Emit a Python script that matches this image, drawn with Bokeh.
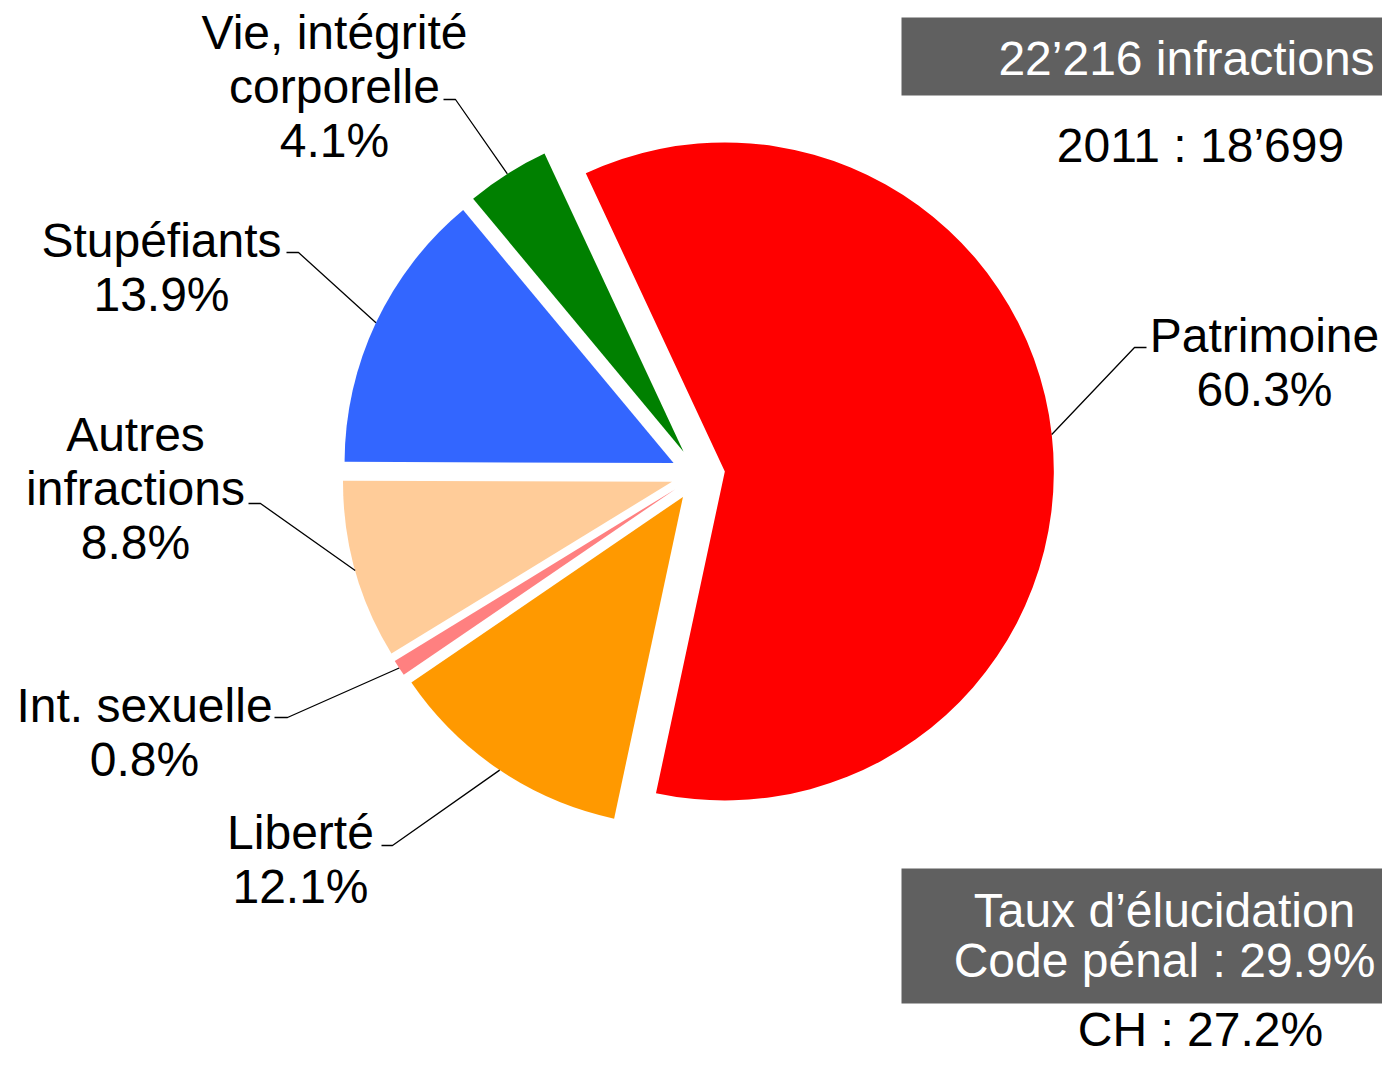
import math
from bokeh.plotting import figure
from bokeh.models import Range1d, ColumnDataSource
from bokeh.embed import file_html
from bokeh.resources import INLINE
from bokeh.core.properties import value

# ---------------- data ----------------
categories = ["Patrimoine", "Liberté", "Int. sexuelle", "Autres\ninfractions",
              "Stupéfiants", "Vie, intégrité\ncorporelle"]
shares = [60.3, 12.1, 0.8, 8.8, 13.9, 4.1]
colors = ["#FF0000", "#FF9900", "#FF8080", "#FFCC99", "#3366FF", "#008000"]
total_text = "22’216 infractions"
previous_text = "2011 : 18’699"
rate_lines = ["Taux d’élucidation", "Code pénal : 29.9%"]
ch_text = "CH : 27.2%"

# ---------------- layout (pixel positions, top-left origin) ----------------
W, H = 1382, 1058
TEXT_SHIFT = -15   # correction of rendered baseline


def X(px):
    return px


def Y(py):
    return H - py


def YT(py):
    return H - (py + TEXT_SHIFT)


center_px = (697.5, 474.0)
R = 329
EXPLODE = 27
START_DEG = -25.0          # clockwise from 12 o'clock
FONT = "Liberation Sans"
FSIZE = "48px"
LINE_STEP = 54

# label centre x, first baseline y ; leader (text-side x, elbow x, y)
label_pos = [(1264, 350), (300, 847), (144, 720), (135, 449), (161, 255), (334, 47)]
leader_pos = [(1146, 1134, 347), (381, 392, 845), (274, 287, 717),
              (248, 260, 503), (286, 298, 252), (443, 455, 99)]

p = figure(width=W, height=H, x_range=Range1d(0, W), y_range=Range1d(0, H),
           output_backend="svg", toolbar_location=None, min_border=0,
           x_axis_location=None, y_axis_location=None)
p.grid.visible = False
p.outline_line_color = None
p.background_fill_color = "white"
p.border_fill_color = "white"

cx, cy = X(center_px[0]), Y(center_px[1])

wx, wy, sa, ea, tipx, tipy = [], [], [], [], [], []
cum = 0.0
for s in shares:
    a0 = START_DEG + 360.0 * cum / 100.0
    a1 = a0 + 360.0 * s / 100.0
    m = math.radians((a0 + a1) / 2.0)
    ox = cx + EXPLODE * math.sin(m)
    oy = cy + EXPLODE * math.cos(m)
    wx.append(ox)
    wy.append(oy)
    sa.append(math.radians(90.0 - a1))
    ea.append(math.radians(90.0 - a0))
    tipx.append(ox + R * math.sin(m))
    tipy.append(oy + R * math.cos(m))
    cum += s

src = ColumnDataSource(dict(x=wx, y=wy, sa=sa, ea=ea, color=colors))
p.wedge(x="x", y="y", radius=R, start_angle="sa", end_angle="ea",
        fill_color="color", line_color=None, source=src)

# leader lines
xs, ys = [], []
for (tx, ex, ey), tpx, tpy in zip(leader_pos, tipx, tipy):
    xs.append([X(tx), X(ex), tpx])
    ys.append([Y(ey), Y(ey), tpy])
p.multi_line(xs=xs, ys=ys, line_color="black", line_width=1.3)

# category labels
lx, ly, lt = [], [], []
for cat, s, (px_, py_) in zip(categories, shares, label_pos):
    lines = cat.split("\n") + [f"{s:.1f}%"]
    for i, t in enumerate(lines):
        lx.append(X(px_))
        ly.append(YT(py_ + i * LINE_STEP))
        lt.append(t)
p.text(x=lx, y=ly, text=lt, text_font=value(FONT), text_font_size=FSIZE,
       text_align="center", text_baseline="alphabetic", text_color="black")

# info boxes
p.quad(left=[X(901), X(901)], right=[W + 20, W + 20],
       top=[Y(17), Y(868)], bottom=[Y(95), Y(1003)],
       fill_color="#606060", line_color=None)

top_cx = X(1186)
bot_cx = X(1164)
p.text(x=[top_cx, bot_cx, bot_cx], y=[YT(73), YT(925), YT(975)],
       text=[total_text] + rate_lines, text_font=value(FONT), text_font_size=FSIZE,
       text_align="center", text_baseline="alphabetic", text_color="white")
p.text(x=[X(1200), X(1200)], y=[YT(160), YT(1044)], text=[previous_text, ch_text],
       text_font=value(FONT), text_font_size=FSIZE, text_align="center",
       text_baseline="alphabetic", text_color="black")

open("out.html", "w").write(file_html(p, INLINE))
